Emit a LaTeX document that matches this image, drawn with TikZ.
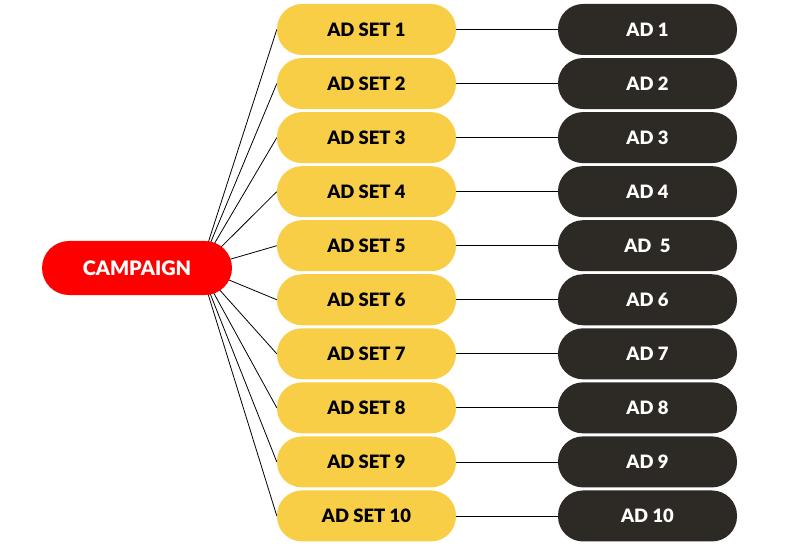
\documentclass[tikz,border=0pt]{standalone}
\usepackage{fontspec}
\setmainfont{Lato}[BoldFont={Lato Black}]
\usepackage{xcolor}
\usetikzlibrary{calc,positioning,backgrounds}
\definecolor{setyellow}{HTML}{F9CE47}
\definecolor{addark}{HTML}{2D2A26}
\definecolor{campred}{HTML}{FF0000}
\tikzset{
pill/.style={rectangle, rounded corners=25bp, minimum width=179bp, minimum height=51bp, inner sep=0pt, font=\fontsize{18.5}{20}\selectfont\bfseries},
adset/.style={pill, fill=setyellow, text=black},
adbox/.style={pill, fill=addark, text=white},
campbox/.style={pill, fill=campred, text=white, minimum width=190bp, minimum height=54bp, rounded corners=27bp, font=\fontsize{20}{22}\selectfont\bfseries},
link/.style={draw=black, line width=0.8pt}
}

\begin{document}
\begin{tikzpicture}[x=1bp,y=-1bp]
\useasboundingbox (0,0) rectangle (800,550);
\node[campbox] (camp) at (137,268) {CAMPAIGN};
\coordinate (hub) at (200,268);
\foreach \i in {1,...,10} {
\node[adset] (set\i) at (366.5,{29.5+54.05*(\i-1)}) {AD SET \i};};
\foreach \i in {1,2,3,4,6,7,8,9,10} {
\node[adbox] (ad\i) at (647.5,{29.5+54.05*(\i-1)}) {AD \i};};
\node[adbox] (ad5) at (647.5,{29.5+54.05*4}) {AD\ \ 5};
\begin{scope}[on background layer]
\foreach \i in {1,...,10} {
\draw[link] (hub) -- (set\i.west);
\draw[link] (set\i.east) -- (ad\i.west);};
\end{scope}
\end{tikzpicture}
\end{document}
